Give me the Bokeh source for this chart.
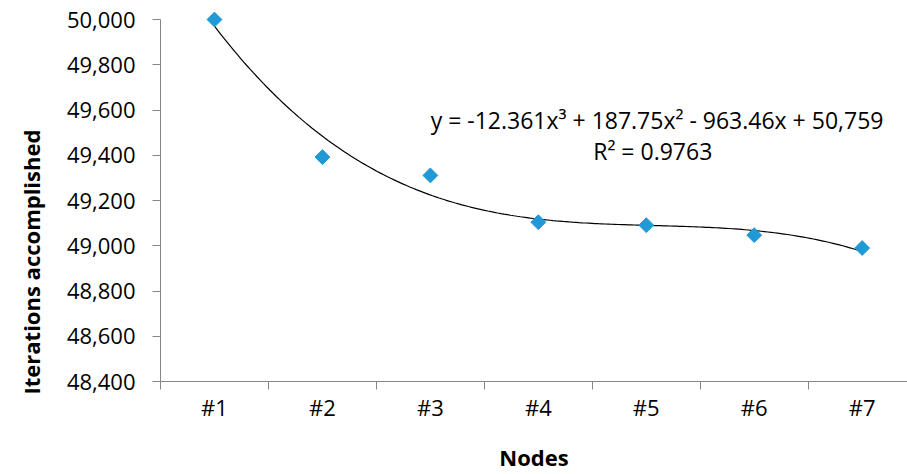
import numpy as np
from bokeh.plotting import figure
from bokeh.models import FixedTicker, Label, Range1d, Title
from bokeh.embed import file_html
from bokeh.resources import INLINE

nodes = ["#1", "#2", "#3", "#4", "#5", "#6", "#7"]
iterations = [50000, 49392, 49311, 49104, 49091, 49047, 48990]
# displayed cubic trendline coefficients (x^3, x^2, x, const)
trend_coef = [-12.361, 187.75, -963.46, 50759]
trend_text = "y = -12.361x\u00b3 + 187.75x\u00b2 - 963.46x + 50,759"
r2_text = "R\u00b2 = 0.9763"
y_ticks = [48400, 48600, 48800, 49000, 49200, 49400, 49600, 49800, 50000]

xs = list(range(1, len(nodes) + 1))

FONT = "Open Sans"
FS = "22px"

p = figure(width=907, height=474, output_backend="svg", toolbar_location=None,
           x_range=Range1d(0.5, 7.42), y_range=Range1d(48400, 50040),
           min_border_left=158, min_border_right=0, min_border_top=10,
           min_border_bottom=89)
p.outline_line_color = None
p.xgrid.visible = False
p.ygrid.visible = False
p.background_fill_color = "white"
p.border_fill_color = "white"

# trendline
tx = np.linspace(1, 7, 200)
ty = np.polyval(trend_coef, tx)
p.line(tx, ty, line_color="black", line_width=1.2)

# data points
p.scatter(xs, iterations, marker="square", angle=np.pi / 4, size=10.5,
          fill_color="#1f9ad6", line_color="#1f9ad6")

# y axis
ya = p.yaxis[0]
ya.ticker = FixedTicker(ticks=y_ticks, minor_ticks=[])
ya.major_label_overrides = {v: f"{v:,}" for v in y_ticks}
ya.bounds = (48400, 50000)
ya.axis_line_color = "#868686"
ya.major_tick_line_color = "#868686"
ya.major_tick_out = 8
ya.major_tick_in = 0
ya.minor_tick_line_color = None
ya.major_label_standoff = 17
ya.major_label_text_font = FONT
ya.major_label_text_font_size = FS
ya.major_label_text_color = "black"

# y axis title, anchored towards the bottom like the reference
ytitle = Title(text="Iterations accomplished", align="left", offset=-13,
               standoff=31, vertical_align="top", text_font=FONT,
               text_font_size=FS, text_font_style="bold", text_color="black")
p.add_layout(ytitle, "left")

# x axis
xa = p.xaxis[0]
xa.ticker = FixedTicker(ticks=xs, minor_ticks=[i + 0.5 for i in range(0, 8)])
xa.major_label_overrides = {x: n for x, n in zip(xs, nodes)}
xa.axis_line_color = "#868686"
xa.major_tick_line_color = None
xa.major_tick_out = 8
xa.minor_tick_line_color = "#868686"
xa.minor_tick_out = 8
xa.minor_tick_in = 0
xa.major_label_standoff = 2
xa.major_label_text_font = FONT
xa.major_label_text_font_size = FS
xa.major_label_text_color = "black"
xa.axis_label = "Nodes"
xa.axis_label_text_font = FONT
xa.axis_label_text_font_size = FS
xa.axis_label_text_font_style = "bold"
xa.axis_label_text_color = "black"
xa.axis_label_standoff = 17

# equation labels
p.add_layout(Label(x=5.10, y=49558, text=trend_text, text_align="center",
                   text_baseline="middle", text_font=FONT,
                   text_font_size="23px", text_color="black"))
p.add_layout(Label(x=5.06, y=49421, text=r2_text, text_align="center",
                   text_baseline="middle", text_font=FONT,
                   text_font_size="23px", text_color="black"))

open("out.html", "w").write(file_html(p, INLINE))
